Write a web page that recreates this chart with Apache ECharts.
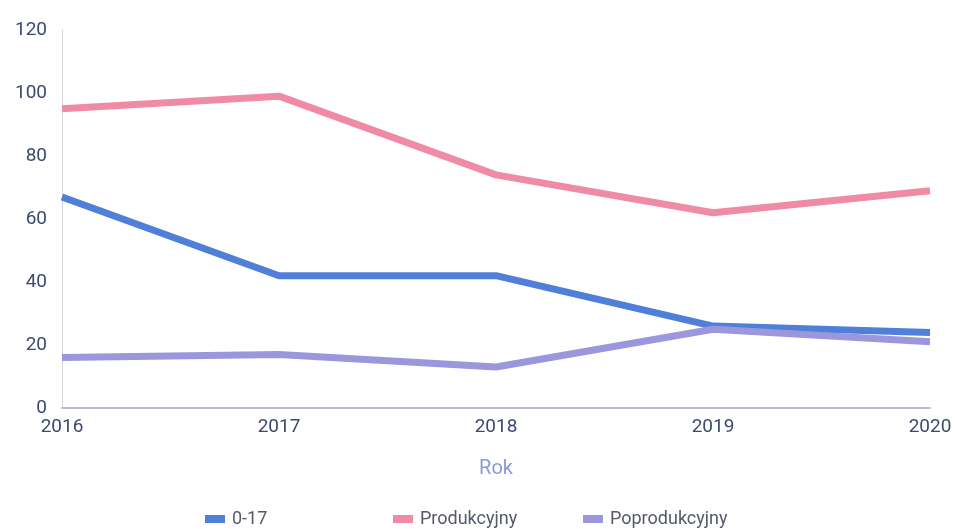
<!DOCTYPE html>
<html>
<head>
<meta charset="utf-8">
<script src="https://cdn.jsdelivr.net/npm/echarts@6/dist/echarts.min.js"></script>
<style>
  html, body { margin: 0; padding: 0; background: #fff; }
  #chart { width: 955px; height: 529px; }
</style>
</head>
<body>
<div id="chart"></div>
<script>
const years = ['2016', '2017', '2018', '2019', '2020'];
const youth = [67, 42, 42, 26, 24];
const working = [95, 99, 74, 62, 69];
const retired = [16, 17, 13, 25, 21];

const chart = echarts.init(document.getElementById('chart'));

const lineSeries = (name, data, color) => ({
    name,
    type: 'line',
    data,
    symbol: 'none',
    lineStyle: { width: 7, color },
    itemStyle: { color }
});

// one legend per item, the spacing in the source is uneven
const legendAt = (name, left) => ({
    data: [name],
    top: 510,
    left,
    padding: 0,
    icon: 'rect',
    itemWidth: 20,
    itemHeight: 8,
    textStyle: { fontSize: 18, color: '#555a66', padding: [0, 0, 0, 2] }
});

chart.setOption({
    animation: false,
    textStyle: { fontFamily: 'Roboto, sans-serif' },
    grid: { left: 62, right: 25, top: 30, bottom: 121 },
    legend: [
        legendAt('0-17', 205),
        legendAt('Produkcyjny', 393),
        legendAt('Poprodukcyjny', 583)
    ],
    xAxis: {
        type: 'category',
        data: years,
        boundaryGap: false,
        name: 'Rok',
        nameLocation: 'middle',
        nameGap: 51,
        nameTextStyle: { fontSize: 20, color: '#8d9ad6' },
        axisLine: { lineStyle: { color: '#b8bed6', width: 2 } },
        axisTick: { show: false },
        axisLabel: { fontSize: 19, color: '#3d4a6e', margin: 10 }
    },
    yAxis: {
        type: 'value',
        min: 0,
        max: 120,
        interval: 20,
        axisLine: { show: true, lineStyle: { color: '#d4d6de' } },
        axisTick: { show: false },
        splitLine: { show: false },
        axisLabel: { fontSize: 19, color: '#3d4a6e', margin: 15 }
    },
    series: [
        lineSeries('0-17', youth, '#4f7fd8'),
        lineSeries('Produkcyjny', working, '#f08ba6'),
        lineSeries('Poprodukcyjny', retired, '#9c96dc')
    ]
});
</script>
</body>
</html>
